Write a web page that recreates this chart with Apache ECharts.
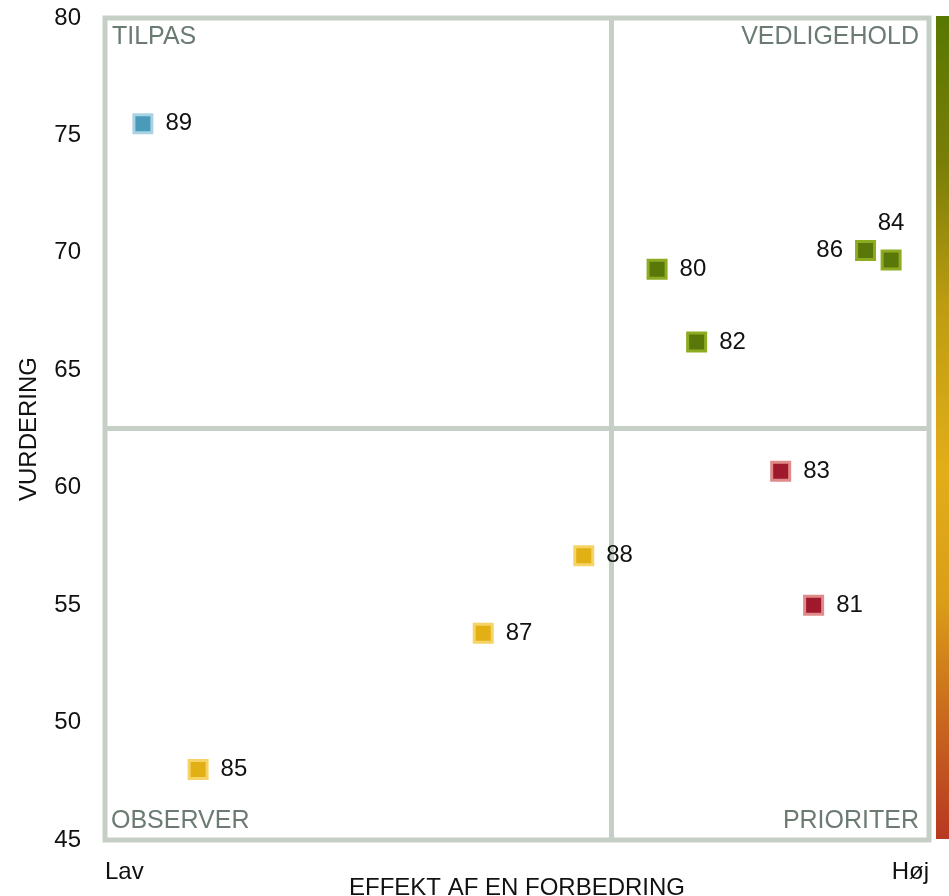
<!DOCTYPE html>
<html>
<head>
<meta charset="utf-8">
<title>Prioriteringskort</title>
<script src="https://cdn.jsdelivr.net/npm/echarts@6/dist/echarts.min.js"></script>
<style>
    html, body { margin: 0; padding: 0; background: #fff; }
    #chart { width: 949px; height: 896px; }
</style>
</head>
<body>
<div id="chart"></div>
<script>
    // spørgsmål nr., effekt (x), vurdering (y), kvadrant
    var ids = ['89', '80', '82', '86', '84', '83', '81', '88', '87', '85'];
    var effekt = [4.6, 67.0, 71.8, 92.3, 95.4, 82.0, 86.0, 58.1, 45.9, 11.3];
    var vurdering = [75.5, 69.3, 66.2, 70.1, 69.7, 60.7, 55.0, 57.1, 53.8, 48.0];
    var kvadrant = ['tilpas', 'vedligehold', 'vedligehold', 'vedligehold', 'vedligehold',
        'prioriter', 'prioriter', 'observer', 'observer', 'observer'];
    var labelPos = ['right', 'right', 'right', 'left', 'top', 'right', 'right', 'right', 'right', 'right'];

    var yTicks = [45, 50, 55, 60, 65, 70, 75, 80];
    var xTicks = ['Lav', 'Høj'];
    var skillelinjeX = 61.4;
    var skillelinjeY = 62.55;

    var farver = {
        tilpas: { fill: '#4a9aba', border: '#a9d3e3' },
        vedligehold: { fill: '#5a780a', border: '#8dac22' },
        prioriter: { fill: '#a0182b', border: '#e08a8a' },
        observer: { fill: '#e2b014', border: '#f6d366' }
    };

    var font = 'Liberation Sans, Arial, sans-serif';
    var tekstFarve = '#111';
    var kvadrantFarve = '#6b7b72';

    var chart = echarts.init(document.getElementById('chart'));

    var punkter = ids.map(function (id, i) {
        var f = farver[kvadrant[i]];
        return {
            name: id,
            value: [effekt[i], vurdering[i]],
            itemStyle: { color: f.fill, borderColor: f.border, borderWidth: 3, opacity: 1 },
            label: {
                position: labelPos[i],
                distance: labelPos[i] === 'top' ? 14 : 12
            }
        };
    });

    var option = {
        backgroundColor: '#fff',
        animation: false,
        grid: {
            left: 105,
            right: 20,
            top: 18,
            bottom: 56,
            outerBoundsMode: 'none',
            containLabel: false,
            show: true,
            borderColor: '#c5cfc5',
            borderWidth: 5,
            backgroundColor: 'transparent'
        },
        xAxis: {
            type: 'value',
            min: 0,
            max: 100,
            interval: 100,
            axisLine: { show: false },
            axisTick: { show: false },
            splitLine: { show: false },
            axisLabel: {
                fontSize: 24,
                color: tekstFarve,
                fontFamily: font,
                margin: 20,
                alignMinLabel: 'left',
                alignMaxLabel: 'right',
                formatter: function (v) {
                    return v === 0 ? xTicks[0] : xTicks[1];
                }
            }
        },
        yAxis: {
            type: 'value',
            min: yTicks[0],
            max: yTicks[yTicks.length - 1],
            interval: 5,
            name: 'VURDERING',
            nameLocation: 'middle',
            nameRotate: 90,
            nameGap: 64,
            nameTextStyle: { fontSize: 24, color: tekstFarve, fontFamily: font },
            axisLine: { show: false },
            axisTick: { show: false },
            splitLine: { show: false },
            axisLabel: { fontSize: 24, color: tekstFarve, fontFamily: font, margin: 24 }
        },
        graphic: [
            {
                type: 'rect',
                shape: { x: 936, y: 16, width: 13, height: 823 },
                style: {
                    fill: new echarts.graphic.LinearGradient(0, 0, 0, 1, [
                        { offset: 0, color: '#587800' },
                        { offset: 0.18, color: '#7a7e08' },
                        { offset: 0.35, color: '#bd9c12' },
                        { offset: 0.55, color: '#e2ae18' },
                        { offset: 0.71, color: '#da9e18' },
                        { offset: 0.86, color: '#c8661e' },
                        { offset: 1, color: '#b83822' }
                    ])
                },
                silent: true
            },
            // x-aksens titel
            {
                type: 'text',
                x: 517,
                y: 876,
                style: {
                    text: 'EFFEKT AF EN FORBEDRING',
                    fontSize: 24,
                    fill: tekstFarve,
                    fontFamily: font,
                    align: 'center',
                    verticalAlign: 'top'
                }
            },
            { type: 'text', left: 112, top: 25, style: { text: 'TILPAS', fontSize: 25, fill: kvadrantFarve, fontFamily: font } },
            { type: 'text', right: 30, top: 25, style: { text: 'VEDLIGEHOLD', fontSize: 25, fill: kvadrantFarve, fontFamily: font } },
            { type: 'text', left: 111, top: 809, style: { text: 'OBSERVER', fontSize: 25, fill: kvadrantFarve, fontFamily: font } },
            { type: 'text', right: 30, top: 809, style: { text: 'PRIORITER', fontSize: 25, fill: kvadrantFarve, fontFamily: font } }
        ],
        series: [
            {
                // kvadrantlinjer
                type: 'scatter',
                data: [],
                z: 1,
                markLine: {
                    silent: true,
                    symbol: 'none',
                    label: { show: false },
                    lineStyle: { color: '#c5cfc5', width: 5, type: 'solid', opacity: 1 },
                    data: [
                        { xAxis: skillelinjeX },
                        { yAxis: skillelinjeY }
                    ]
                }
            },
            {
                type: 'scatter',
                symbol: 'rect',
                symbolSize: 18,
                data: punkter,
                z: 5,
                label: {
                    show: true,
                    formatter: '{b}',
                    fontSize: 24,
                    color: tekstFarve,
                    fontFamily: font
                }
            }
        ]
    };

    chart.setOption(option);
</script>
</body>
</html>
